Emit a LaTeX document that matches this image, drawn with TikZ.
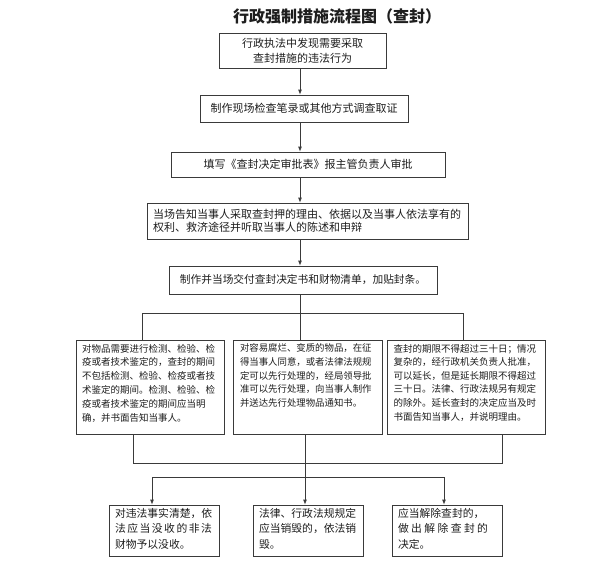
\documentclass[tikz,border=0pt]{standalone}
\usepackage{fontspec}
\setmainfont{Noto Sans CJK SC}
\usetikzlibrary{arrows.meta}
\definecolor{linec}{HTML}{3A3A3A}
\definecolor{txtc}{HTML}{1E1E1E}
\newcommand\fs[2]{\fontsize{#1}{#2}\selectfont}
\newcommand\tbox[5]{\parbox[c][#2][t]{#1}{\fs{#3}{#4}\vspace*{0pt}#5}}
\begin{document}
\begin{tikzpicture}[x=1pt,y=-1pt,
  box/.style={draw=linec, line width=0.8pt, inner sep=0pt, fill=white, text=txtc},
  conn/.style={draw=linec, line width=0.8pt},
  arr/.style={conn, -{Latex[length=5pt,width=4pt]}}]
\useasboundingbox (0,0) rectangle (600,566);
\fill[white] (0,0) rectangle (600,566);
% title
\node[text=txtc, font=\fs{16}{18}\bfseries] (title) at (337,16) {行政强制措施流程图（查封）};
% main column
\node[box, minimum width=167pt, minimum height=35pt, align=center, font=\fs{11}{15}] (b1) at (302.5,50.5)
  {行政执法中发现需要采取\\查封措施的违法行为};
\node[box, minimum width=208pt, minimum height=27pt, font=\fs{11}{13}] (b2) at (304,108.5)
  {制作现场检查笔录或其他方式调查取证};
\node[box, minimum width=274pt, minimum height=25pt, font=\fs{11}{13}] (b3) at (308,164.5)
  {填写《查封决定审批表》报主管负责人审批};
\node[box, minimum width=321pt, minimum height=36pt] (b4) at (307.5,221)
  {\parbox{309pt}{\fs{11}{13.5}当场告知当事人采取查封押的理由、依据以及当事人依法享有的\\权利、救济途径并听取当事人的陈述和申辩}};
\node[box, minimum width=268pt, minimum height=28pt, font=\fs{10.7}{13}] (b5) at (303,280)
  {制作并当场交付查封决定书和财物清单，加贴封条。};
% middle row
\node[box, minimum width=148pt, minimum height=94pt] (A) at (150,387)
  {\tbox{136pt}{86pt}{9.5}{13.8}{对物品需要进行检测、检验、检\\疫或者技术鉴定的，查封的期间\\不包括检测、检验、检疫或者技\\术鉴定的期间。检测、检验、检\\疫或者技术鉴定的期间应当明\\确，并书面告知当事人。}};
\node[box, minimum width=149pt, minimum height=94pt] (B) at (307.5,387)
  {\tbox{135pt}{86pt}{9.4}{13.6}{对容易腐烂、变质的物品，在征\\得当事人同意，或者法律法规规\\定可以先行处理的，经局领导批\\准可以先行处理，向当事人制作\\并送达先行处理物品通知书。}};
\node[box, minimum width=158pt, minimum height=94pt] (C) at (466,387)
  {\tbox{145pt}{86pt}{9.5}{13.6}{查封的期限不得超过三十日；情况\\复杂的，经行政机关负责人批准，\\可以延长，但是延长期限不得超过\\三十日。法律、行政法规另有规定\\的除外。延长查封的决定应当及时\\书面告知当事人，并说明理由。}};
% bottom row
\node[box, minimum width=110pt, minimum height=51pt] (D) at (164,530.5)
  {\tbox{98pt}{45pt}{10.8}{15.7}{对违法事实清楚，依\\\makebox[97pt][s]{法\hfil 应\hfil 当\hfil 没\hfil 收\hfil 的\hfil 非\hfil 法}\\财物予以没收。}};
\node[box, minimum width=110pt, minimum height=51pt] (E) at (308,530.5)
  {\tbox{98pt}{45pt}{10.8}{15.7}{法律、行政法规规定\\应当销毁的，依法销\\毁。}};
\node[box, minimum width=110pt, minimum height=51pt] (F) at (447,530.5)
  {\tbox{98pt}{45pt}{10.8}{15.7}{应当解除查封的，\\\makebox[90pt][s]{做\hfil 出\hfil 解\hfil 除\hfil 查\hfil 封\hfil 的}\\决定。}};
% connectors
\coordinate (xm) at (300,0);
\draw[arr] (b1.south -| xm) -- (b2.north -| xm);
\draw[arr] (b2.south -| xm) -- (b3.north -| xm);
\draw[arr] (b3.south -| xm) -- (b4.north -| xm);
\draw[arr] (b4.south -| xm) -- (b5.north -| xm);
\draw[conn] (b5.south -| xm) -- (B.north -| xm);
\coordinate (tl) at (142,313);
\coordinate (tr) at (463,313);
\draw[conn] (A.north -| tl) -- (tl) -- (tr) -- (C.north -| tr);
\coordinate (bl) at (133,463);
\coordinate (br) at (502,463);
\draw[conn] (A.south -| bl) -- (bl) -- (br) -- (C.south -| br);
\coordinate (xb) at (305,0);
\draw[arr] (B.south -| xb) -- (E.north -| xb);
\coordinate (dl) at (152,477);
\coordinate (dr) at (444,477);
\draw[conn] (dl) -- (dr);
\draw[arr] (dl) -- (D.north -| dl);
\draw[arr] (dr) -- (F.north -| dr);
\end{tikzpicture}
\end{document}
